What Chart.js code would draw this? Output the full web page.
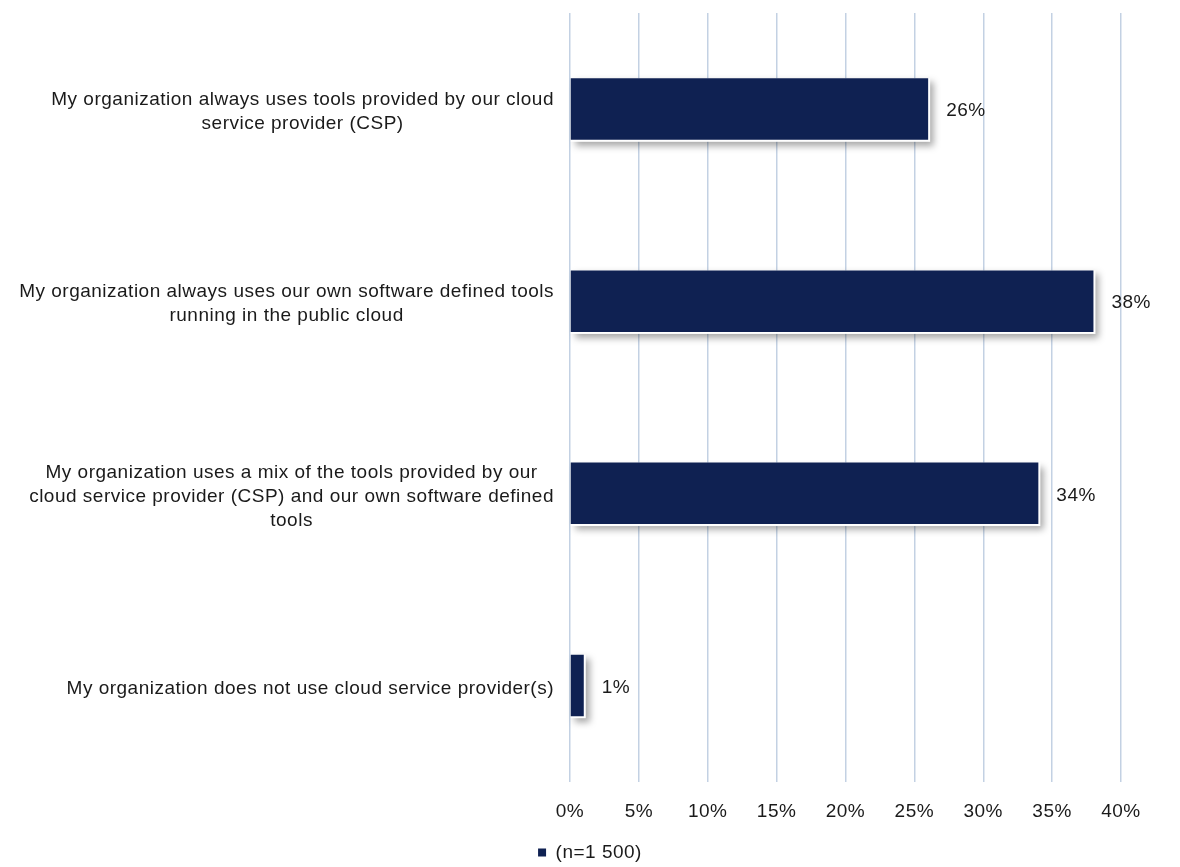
<!DOCTYPE html>
<html>
<head>
<meta charset="utf-8">
<script src="https://cdn.jsdelivr.net/npm/chart.js@4/dist/chart.umd.min.js"></script>
<style>
  html, body { margin: 0; padding: 0; background: #fff; }
  #wrap { width: 1180px; height: 867px; }
</style>
</head>
<body>
<div id="wrap"><canvas id="toolsChart" width="1180" height="867"></canvas></div>
<script>
// answers, one entry per bar (multi-line labels as arrays)
const categories = [
    ['My organization always uses tools provided by our cloud', 'service provider (CSP)'],
    ['My organization always uses our own software defined tools', 'running in the public cloud'],
    ['My organization uses a mix of the tools provided by our', 'cloud service provider (CSP) and our own software defined', 'tools'],
    ['My organization does not use cloud service provider(s)']
];
const shares = [26, 38, 34, 1];
const seriesName = '(n=1 500)';
const axisMax = 40;
const axisStep = 5;

const navy = '#0f2152';
const textColor = '#1a1a1a';
const font = "'Liberation Sans', Arial, sans-serif";
const textSize = 19;
const lineGap = 24;

// slightly wider lettering; canvas resizes wipe the context state, so set it each pass
const wideText = {
    id: 'wideText',
    beforeUpdate(chart) { chart.ctx.letterSpacing = '0.5px'; },
    beforeDraw(chart) { chart.ctx.letterSpacing = '0.5px'; }
};

// white backing with a soft drop shadow behind each bar
const barShadow = {
    id: 'barShadow',
    beforeDatasetsDraw(chart) {
        const ctx = chart.ctx;
        chart.getDatasetMeta(0).data.forEach(bar => {
            const left = Math.min(bar.base, bar.x);
            const w = Math.abs(bar.x - bar.base);
            const top = bar.y - bar.height / 2;
            ctx.save();
            ctx.shadowColor = 'rgba(0,0,0,0.35)';
            ctx.shadowBlur = 7;
            ctx.shadowOffsetX = 4;
            ctx.shadowOffsetY = 4;
            ctx.fillStyle = '#fff';
            ctx.fillRect(left, top, w + 2, bar.height + 2);
            ctx.restore();
        });
    }
};

// category text: each block sits against the axis, its lines centred on each other
const categoryText = {
    id: 'categoryText',
    afterDraw(chart) {
        const ctx = chart.ctx;
        const y = chart.scales.y;
        const right = chart.chartArea.left - 16;
        ctx.save();
        ctx.font = textSize + 'px ' + font;
        ctx.fillStyle = textColor;
        ctx.textAlign = 'center';
        ctx.textBaseline = 'middle';
        chart.data.labels.forEach((lines, i) => {
            const widest = Math.max(...lines.map(l => ctx.measureText(l).width));
            const cx = right - widest / 2;
            const cy = y.getPixelForValue(i) + 3;
            const first = cy - (lines.length - 1) * lineGap / 2;
            lines.forEach((l, k) => ctx.fillText(l, cx, first + k * lineGap));
        });
        ctx.restore();
    }
};

// percentage printed just past the end of each bar
const barValues = {
    id: 'barValues',
    afterDatasetsDraw(chart) {
        const ctx = chart.ctx;
        const ds = chart.data.datasets[0];
        ctx.save();
        ctx.font = textSize + 'px ' + font;
        ctx.fillStyle = textColor;
        ctx.textAlign = 'left';
        ctx.textBaseline = 'middle';
        chart.getDatasetMeta(0).data.forEach((bar, i) => {
            ctx.fillText(ds.data[i] + '%', bar.x + 18, bar.y + 2);
        });
        ctx.restore();
    }
};

new Chart(document.getElementById('toolsChart'), {
    type: 'bar',
    data: {
        labels: categories,
        datasets: [{
            label: seriesName,
            data: shares,
            backgroundColor: navy,
            borderWidth: 0,
            categoryPercentage: 1,
            barPercentage: 0.32
        }]
    },
    options: {
        indexAxis: 'y',
        responsive: false,
        animation: false,
        layout: { padding: { top: 13, right: 0, bottom: -5, left: 0 } },
        scales: {
            x: {
                min: 0,
                max: axisMax,
                grid: { color: '#c3d1e3', lineWidth: 1.5, drawTicks: false },
                border: { display: false },
                ticks: {
                    stepSize: axisStep,
                    padding: 19,
                    color: textColor,
                    font: { family: font, size: textSize },
                    callback: v => v + '%'
                },
                afterFit(scale) {
                    scale.height = 61;
                    scale.paddingRight = 59;
                }
            },
            y: {
                grid: { display: false, drawTicks: false },
                border: { display: false },
                ticks: { display: false },
                afterFit(scale) {
                    scale.width = 570;
                    scale.paddingTop = 0;
                    scale.paddingBottom = 0;
                }
            }
        },
        plugins: {
            legend: {
                position: 'bottom',
                labels: {
                    boxWidth: 8,
                    boxHeight: 8,
                    padding: 0.5,
                    color: textColor,
                    font: { family: font, size: textSize }
                }
            },
            tooltip: { enabled: false }
        }
    },
    plugins: [wideText, barShadow, barValues, categoryText]
});
</script>
</body>
</html>
